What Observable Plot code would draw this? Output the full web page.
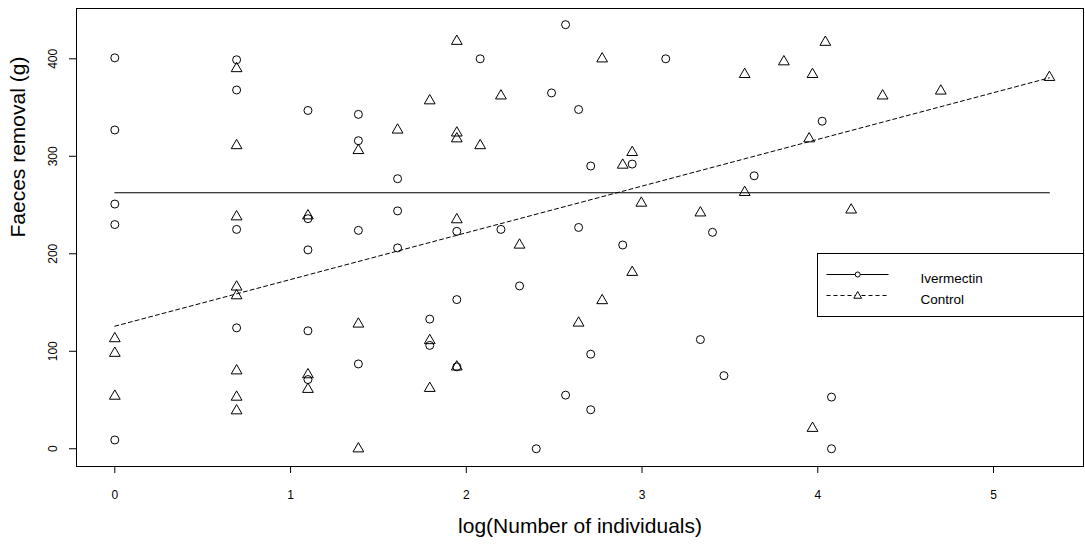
<!DOCTYPE html>
<html>
<head>
<meta charset="utf-8">
<script src="https://cdn.jsdelivr.net/npm/d3@7"></script>
<script src="https://cdn.jsdelivr.net/npm/@observablehq/plot@0.6"></script>
<style>
  html, body { margin: 0; padding: 0; background: #fff; }
  #chart { width: 1085px; height: 545px; }
</style>
</head>
<body>
<div id="chart"></div>
<script>
// ---- Data ----
const ivermectinLogN = [0, 0, 0, 0, 0,
  0.693, 0.693, 0.693, 0.693,
  1.099, 1.099, 1.099, 1.099, 1.099,
  1.386, 1.386, 1.386, 1.386,
  1.609, 1.609, 1.609,
  1.792, 1.792,
  1.946, 1.946, 1.946,
  2.079, 2.197, 2.303, 2.398, 2.485,
  2.565, 2.565, 2.639, 2.639,
  2.708, 2.708, 2.708,
  2.890, 2.944, 3.135, 3.332, 3.401, 3.466, 3.638, 4.025, 4.078, 4.078];
const ivermectinRemoval = [401, 327, 251, 230, 9,
  399, 368, 225, 124,
  347, 236, 204, 121, 71,
  343, 316, 224, 87,
  277, 244, 206,
  133, 106,
  223, 153, 84,
  400, 225, 167, 0, 365,
  435, 55, 348, 227,
  290, 97, 40,
  209, 292, 400, 112, 222, 75, 280, 336, 53, 0];

const controlLogN = [0, 0, 0,
  0.693, 0.693, 0.693, 0.693, 0.693, 0.693, 0.693, 0.693,
  1.099, 1.099, 1.099,
  1.386, 1.386, 1.386,
  1.609,
  1.792, 1.792, 1.792,
  1.946, 1.946, 1.946, 1.946, 1.946,
  2.079, 2.197, 2.303, 2.639,
  2.773, 2.773, 2.890, 2.944, 2.944, 2.996,
  3.332, 3.584, 3.584, 3.807, 3.951, 3.970, 3.970,
  4.043, 4.190, 4.369, 4.700, 5.318];
const controlRemoval = [113, 98, 54,
  390, 311, 238, 166, 157, 80, 53, 39,
  239, 76, 61,
  306, 128, 0,
  327,
  357, 111, 62,
  418, 324, 318, 235, 84,
  311, 362, 209, 129,
  400, 152, 291, 304, 181, 252,
  242, 384, 263, 397, 318, 384, 21,
  417, 245, 362, 367, 381];

// fitted lines (endpoints)
const ivermectinFitX = [0, 5.318];
const ivermectinFitY = [262.6, 262.6];
const controlFitX = [0, 5.318];
const controlFitY = [125.7, 380.5];

const xTicks = [0, 1, 2, 3, 4, 5];
const yTicks = [0, 100, 200, 300, 400];
const xTitle = "log(Number of individuals)";
const yTitle = "Faeces removal (g)";
const seriesNames = ["Ivermectin", "Control"];

// ---- Build tables ----
const ivermectin = ivermectinLogN.map((x, i) => ({x, y: ivermectinRemoval[i]}));
const control = controlLogN.map((x, i) => ({x, y: controlRemoval[i]}));
const ivFit = ivermectinFitX.map((x, i) => ({x, y: ivermectinFitY[i]}));
const ctFit = controlFitX.map((x, i) => ({x, y: controlFitY[i]}));

const FONT = "'Liberation Sans', Arial, Helvetica, sans-serif";

const plot = Plot.plot({
  width: 1085,
  height: 545,
  marginLeft: 76,
  marginRight: 2,
  marginTop: 8,
  marginBottom: 79,
  x: {domain: [-0.218, 5.512]},
  y: {domain: [-18.2, 451.6]},
  style: {fontFamily: FONT, background: "white", color: "black", overflow: "visible"},
  marks: [
    Plot.axisX({ticks: xTicks, tickSize: 7, tickPadding: 17, fontSize: 12, tickFormat: d => String(d), label: null}),
    Plot.axisY({ticks: yTicks, tickSize: 7, tickPadding: 13, tickRotate: -90, fontSize: 12, tickFormat: d => String(d), label: null}),
    Plot.text([xTitle], {frameAnchor: "bottom", dy: 52, lineAnchor: "top", fontSize: 21, text: d => d, fill: "black"}),
    Plot.text([yTitle], {frameAnchor: "left", dx: -66, rotate: -90, lineAnchor: "top", fontSize: 21, text: d => d, fill: "black"}),
    Plot.line(ivFit, {x: "x", y: "y", stroke: "black", strokeWidth: 1}),
    Plot.line(ctFit, {x: "x", y: "y", stroke: "black", strokeWidth: 1, strokeDasharray: "4,3"}),
    Plot.dot(ivermectin, {x: "x", y: "y", r: 4, symbol: "circle", stroke: "black", fill: "none", strokeWidth: 1}),
    Plot.dot(control, {x: "x", y: "y", r: 4, symbol: "triangle", stroke: "black", fill: "none", strokeWidth: 1}),
    Plot.frame({stroke: "black", strokeWidth: 1})
  ]
});

document.getElementById("chart").appendChild(plot);

// ---- Legend (drawn inside the plot, right-middle region) ----
const svg = d3.select(plot);
const lg = svg.append("g").attr("class", "legend").attr("font-family", FONT);
lg.append("rect")
  .attr("x", 817.5).attr("y", 253.5).attr("width", 266).attr("height", 63)
  .attr("fill", "white").attr("stroke", "black").attr("stroke-width", 1);
const legendRows = [
  {name: seriesNames[0], dash: null, symbol: d3.symbolCircle, size: 20},
  {name: seriesNames[1], dash: "4,3", symbol: d3.symbolTriangle, size: 26}
];
legendRows.forEach((row, i) => {
  const cy = 274.5 + i * 21;
  lg.append("line")
    .attr("x1", 826.5).attr("x2", 888.5).attr("y1", cy).attr("y2", cy)
    .attr("stroke", "black").attr("stroke-width", 1)
    .attr("stroke-dasharray", row.dash);
  lg.append("path")
    .attr("d", d3.symbol(row.symbol, row.size)())
    .attr("transform", `translate(857.7,${cy + (i === 1 ? 0.5 : 0)})`)
    .attr("fill", "white").attr("stroke", "black").attr("stroke-width", 1);
  lg.append("text")
    .attr("x", 920.5).attr("y", cy + 8.3)
    .attr("font-size", 13.5)
    .attr("text-anchor", "start")
    .attr("fill", "black")
    .text(row.name);
});
</script>
</body>
</html>
